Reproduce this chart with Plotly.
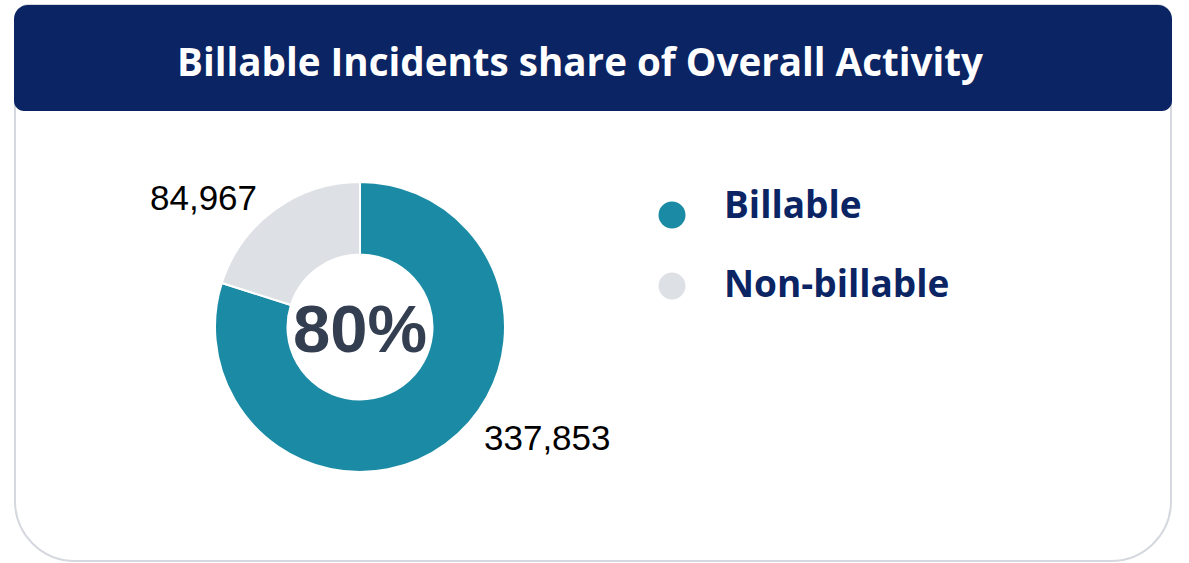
import plotly.graph_objects as go

W, H = 1189, 563

categories = ["Billable", "Non-billable"]
values = [337853, 84967]
colors = ["#1b8ba5", "#dde0e5"]
title_text = "Billable Incidents share of Overall Activity"

NAVY = "#0b2463"
BORDER = "#d6d8df"


def px(x):
    return x / W


def py(y):
    return 1 - y / H


K = 0.5523


def rounded_path(x0, y0, x1, y1, rtl, rtr, rbr, rbl):
    pts = []
    pts.append(f"M {px(x0 + rtl)},{py(y0)}")
    pts.append(f"L {px(x1 - rtr)},{py(y0)}")
    pts.append(f"C {px(x1 - rtr + rtr*K)},{py(y0)} {px(x1)},{py(y0 + rtr - rtr*K)} {px(x1)},{py(y0 + rtr)}")
    pts.append(f"L {px(x1)},{py(y1 - rbr)}")
    pts.append(f"C {px(x1)},{py(y1 - rbr + rbr*K)} {px(x1 - rbr + rbr*K)},{py(y1)} {px(x1 - rbr)},{py(y1)}")
    pts.append(f"L {px(x0 + rbl)},{py(y1)}")
    pts.append(f"C {px(x0 + rbl - rbl*K)},{py(y1)} {px(x0)},{py(y1 - rbl + rbl*K)} {px(x0)},{py(y1 - rbl)}")
    pts.append(f"L {px(x0)},{py(y0 + rtl)}")
    pts.append(f"C {px(x0)},{py(y0 + rtl - rtl*K)} {px(x0 + rtl - rtl*K)},{py(y0)} {px(x0 + rtl)},{py(y0)}")
    pts.append("Z")
    return " ".join(pts)


total = sum(values)
share = values[0] / total

# pie geometry (pixels)
cx, cy, R = 360, 327, 145

fig = go.Figure()
fig.add_trace(go.Pie(
    labels=categories,
    values=values,
    hole=0.5,
    sort=False,
    direction="clockwise",
    rotation=0,
    marker=dict(colors=colors, line=dict(color="white", width=2)),
    textinfo="none",
    hoverinfo="label+value+percent",
    showlegend=False,
    domain=dict(x=[px(cx - R), px(cx + R)], y=[py(cy + R), py(cy - R)]),
))

shapes = [
    dict(type="path", xref="paper", yref="paper",
         path=rounded_path(15, 5, 1171, 561, 14, 14, 60, 60),
         fillcolor="white", line=dict(color=BORDER, width=2), layer="below"),
    dict(type="path", xref="paper", yref="paper",
         path=rounded_path(14, 5, 1172, 111, 14, 14, 10, 10),
         fillcolor=NAVY, line=dict(width=0), layer="below"),
]

annotations = [
    dict(text=f"<b>{title_text}</b>", x=px(580), y=py(61), xref="paper", yref="paper",
         xanchor="center", yanchor="middle", showarrow=False,
         font=dict(family="Open Sans", size=38.6, color="white")),
    dict(text=f"<b>{share:.0%}</b>", x=px(cx), y=py(328), xref="paper", yref="paper",
         xanchor="center", yanchor="middle", showarrow=False,
         font=dict(family="Liberation Sans", size=67, color="#333f50")),
    dict(text=f"{values[1]:,}", x=px(259), y=py(197), xref="paper", yref="paper",
         xanchor="right", yanchor="middle", showarrow=False,
         font=dict(family="Liberation Sans", size=35, color="black")),
    dict(text=f"{values[0]:,}", x=px(482), y=py(437), xref="paper", yref="paper",
         xanchor="left", yanchor="middle", showarrow=False,
         font=dict(family="Liberation Sans", size=35, color="black")),
]

legend_y = [215, 286]
legend_text_y = [203, 283]
for i, cat in enumerate(categories):
    r = 13.5
    shapes.append(dict(type="circle", xref="paper", yref="paper",
                       x0=px(672 - r), x1=px(672 + r), y0=py(legend_y[i] + r), y1=py(legend_y[i] - r),
                       fillcolor=colors[i], line=dict(width=0)))
    annotations.append(dict(text=f"<b>{cat}</b>", x=px(722), y=py(legend_text_y[i]),
                            xref="paper", yref="paper", xanchor="left", yanchor="middle",
                            showarrow=False,
                            font=dict(family="Open Sans", size=37, color=NAVY)))

fig.update_layout(
    width=W, height=H,
    margin=dict(l=0, r=0, t=0, b=0),
    paper_bgcolor="white",
    plot_bgcolor="white",
    shapes=shapes,
    annotations=annotations,
    showlegend=False,
)

fig.write_html("out.html")
